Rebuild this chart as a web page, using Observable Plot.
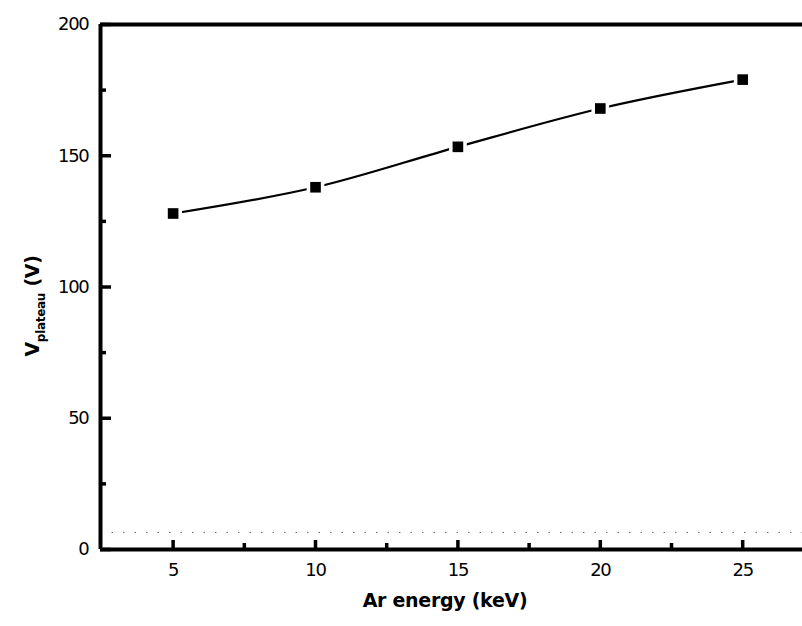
<!DOCTYPE html>
<html><head><meta charset="utf-8">
<script src="https://cdn.jsdelivr.net/npm/d3@7"></script>
<script src="https://cdn.jsdelivr.net/npm/@observablehq/plot@0.6"></script>
<style>body{margin:0;background:#fff}</style>
</head><body><div id="chart"></div>
<script>
const energy = [5, 10, 15, 20, 25];
const vplateau = [128, 138, 153.4, 168, 179];
const xMajor = [5, 10, 15, 20, 25];
const xMinor = [7.5, 12.5, 17.5, 22.5];
const yMajor = [0, 50, 100, 150, 200];
const yMinor = [25, 75, 125, 175];
const xDomain = [2.45, 27.1];
const yDomain = [0, 200];
const data = energy.map((e, i) => ({e, v: vplateau[i]}));

const plot = Plot.plot({
  width: 802, height: 626,
  marginLeft: 100, marginRight: 0, marginTop: 24, marginBottom: 77,
  style: {fontFamily: "DejaVu Sans", fontSize: "18px", background: "white", color: "black", overflow: "visible", letterSpacing: "-1.3px"},
  x: {domain: xDomain},
  y: {domain: yDomain},
  marks: [
    Plot.ruleY([6.5], {stroke: "#666", strokeDasharray: "1.5,10", strokeWidth: 1}),
    Plot.axisX(xMajor, {tickSize: -9, tickPadding: 23, strokeWidth: 3.5, label: null, fontSize: 18}),
    Plot.axisX(xMinor, {tickSize: -6, text: null, strokeWidth: 3.5, label: null}),
    Plot.axisY(yMajor, {tickSize: -11, tickPadding: 23, strokeWidth: 3.5, label: null, fontSize: 18}),
    Plot.axisY(yMinor, {tickSize: -6, text: null, strokeWidth: 3.5, label: null}),
    Plot.ruleY([yDomain[0]], {strokeWidth: 4}),
    Plot.ruleY([yDomain[1]], {strokeWidth: 4}),
    Plot.ruleX([xDomain[0]], {strokeWidth: 4}),
    Plot.line(data, {x: "e", y: "v", curve: "monotone-x", strokeWidth: 2.2}),
    Plot.dot(data, {x: "e", y: "v", symbol: "square", r: 10, fill: "white"}),
    Plot.dot(data, {x: "e", y: "v", symbol: "square", r: 6, fill: "black"})
  ]
});

const svg = d3.select(plot);
svg.append("text")
  .attr("x", 445).attr("y", 607)
  .attr("text-anchor", "middle")
  .attr("font-family", "DejaVu Sans").attr("font-weight", "bold").attr("font-size", 19)
  .attr("letter-spacing", "-0.3px")
  .text("Ar energy (keV)");
const yl = svg.append("text")
  .attr("transform", "translate(39,306) rotate(-90)")
  .attr("text-anchor", "middle")
  .attr("font-family", "DejaVu Sans").attr("font-weight", "bold").attr("font-size", 19)
  .attr("letter-spacing", "-0.3px");
yl.append("tspan").text("V");
yl.append("tspan").attr("font-size", 12).attr("dy", 6).text("plateau");
yl.append("tspan").attr("dy", -6).text(" (V)");

document.getElementById("chart").appendChild(plot);
</script>
</body></html>
